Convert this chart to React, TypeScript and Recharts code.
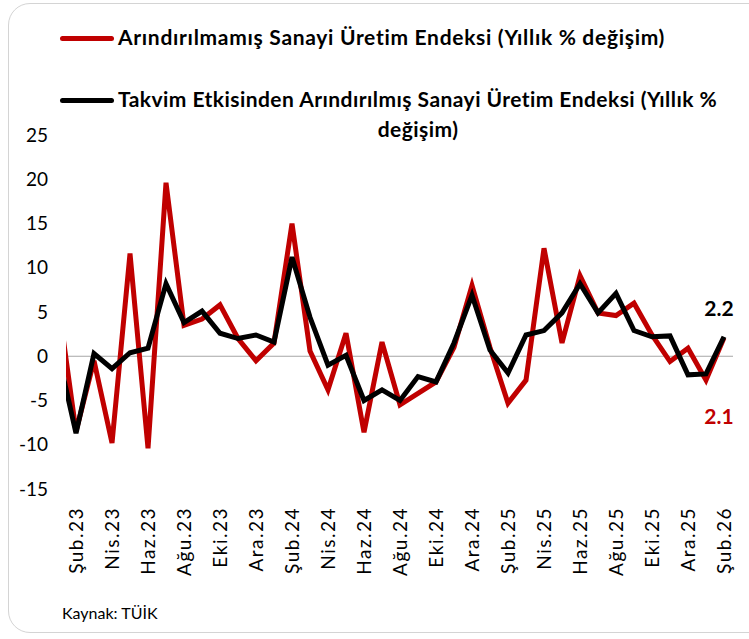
import React from "react";
import { LineChart, Line, XAxis, YAxis, ReferenceLine } from "recharts";

// Aylar (Oca.23 - Şub.26), grafik Şub.23'ten itibaren görünüyor
const months = [
  "Oca.23", "Şub.23", "Mar.23", "Nis.23", "May.23", "Haz.23", "Tem.23", "Ağu.23", "Eyl.23", "Eki.23", "Kas.23", "Ara.23",
  "Oca.24", "Şub.24", "Mar.24", "Nis.24", "May.24", "Haz.24", "Tem.24", "Ağu.24", "Eyl.24", "Eki.24", "Kas.24", "Ara.24",
  "Oca.25", "Şub.25", "Mar.25", "Nis.25", "May.25", "Haz.25", "Tem.25", "Ağu.25", "Eyl.25", "Eki.25", "Kas.25", "Ara.25",
  "Oca.26", "Şub.26",
];

// Arındırılmamış (yıllık % değişim)
const unadjusted = [
  6.3, -8.5, -0.5, -9.8, 11.6, -10.4, 19.6, 3.5, 4.2, 5.8, 2.0, -0.5,
  1.5, 15.0, 0.6, -3.8, 2.6, -8.6, 1.6, -5.5, -4.2, -2.9, 1.0, 8.0,
  1.0, -5.3, -2.7, 12.2, 1.5, 9.1, 4.9, 4.6, 6.0, 2.4, -0.6, 0.9,
  -2.7, 2.1,
];

// Takvim etkisinden arındırılmış (yıllık % değişim)
const calendarAdj = [
  0.3, -8.7, 0.3, -1.4, 0.4, 0.9, 8.2, 3.8, 5.1, 2.6, 2.0, 2.4,
  1.6, 11.2, 4.4, -1.0, 0.1, -5.0, -3.8, -5.0, -2.3, -2.9, 1.5, 6.9,
  0.7, -1.9, 2.4, 2.9, 4.9, 8.2, 4.9, 7.1, 2.9, 2.2, 2.3, -2.1,
  -2.0, 2.2,
];

const yTicks = [-15, -10, -5, 0, 5, 10, 15, 20, 25];
const xTicks = months.map((_, i) => i).filter((i) => i % 2 === 1);

const data = months.map((m, i) => ({ i, month: m, raw: unadjusted[i], adj: calendarAdj[i] }));

const FONT = "Lato, 'Noto Sans', sans-serif";
const RED = "#C00000";

const XTick = (props: any) => {
  const { x, y, payload } = props;
  return (
    <text
      x={x - 10}
      y={y}
      transform={`rotate(-90 ${x} ${y})`}
      textAnchor="end"
      dy="0.35em"
      fontSize={19}
      letterSpacing={1.5}
      fontFamily={FONT}
      fill="#000"
    >
      {months[payload.value]}
    </text>
  );
};

const endLabel = (color: string, dy: number) => (props: any) => {
  const { x, y, index, value } = props;
  if (index !== months.length - 1) return null;
  return (
    <text
      x={x - 5}
      y={y + dy}
      textAnchor="middle"
      dominantBaseline="central"
      fontSize={21}
      fontWeight={700}
      fontFamily={FONT}
      fill={color}
    >
      {Number(value).toFixed(1)}
    </text>
  );
};

const legendText: React.CSSProperties = {
  position: "absolute", fontSize: 21, fontWeight: 700, letterSpacing: 0.45, whiteSpace: "nowrap",
};

export default function App() {
  return (
    <div style={{ position: "absolute", left: 0, top: 0, width: 749, height: 639, background: "#fff", overflow: "hidden", fontFamily: FONT }}>
      {/* kart çerçevesi */}
      <div
        style={{
          position: "absolute", left: 8, top: 3, width: 780, height: 630,
          border: "1.5px solid #d4d4d4", borderRadius: 22, boxSizing: "border-box",
        }}
      />

      {/* lejant */}
      <div style={{ position: "absolute", left: 60, top: 36, width: 54, height: 5, borderRadius: 3, background: RED }} />
      <div style={{ ...legendText, left: 118, top: 24, letterSpacing: 0.7 }}>
        Arındırılmamış Sanayi Üretim Endeksi (Yıllık % değişim)
      </div>
      <div style={{ position: "absolute", left: 60, top: 98, width: 54, height: 5, borderRadius: 3, background: "#000" }} />
      <div style={{ ...legendText, left: 118, top: 86 }}>
        Takvim Etkisinden Arındırılmış Sanayi Üretim Endeksi (Yıllık %
      </div>
      <div style={{ ...legendText, left: 118, width: 600, top: 116, textAlign: "center" }}>
        değişim)
      </div>

      <div style={{ position: "absolute", left: 0, top: 0 }}>
        <LineChart width={749} height={639} data={data} margin={{ top: 135, right: 16, bottom: 50, left: 16 }}>
          <XAxis
            dataKey="i"
            type="number"
            domain={[0.444, 37.5]}
            allowDataOverflow
            ticks={xTicks}
            interval={0}
            tick={<XTick />}
            tickLine={false}
            axisLine={false}
            height={100}
          />
          <YAxis
            domain={[-15, 25]}
            ticks={yTicks}
            interval={0}
            tickLine={false}
            axisLine={false}
            width={50}
            tick={{ fontSize: 19, fill: "#000", fontFamily: FONT, dx: -10 }}
          />
          <ReferenceLine y={0} stroke="#a6a6a6" strokeWidth={1.2} />
          <Line
            type="linear"
            dataKey="raw"
            stroke={RED}
            strokeWidth={5}
            dot={false}
            isAnimationActive={false}
            label={endLabel(RED, 78)}
          />
          <Line
            type="linear"
            dataKey="adj"
            stroke="#000"
            strokeWidth={5}
            dot={false}
            isAnimationActive={false}
            label={endLabel("#000", -29)}
          />
        </LineChart>
      </div>

      <div style={{ position: "absolute", left: 62, top: 603, fontSize: 16 }}>Kaynak: TÜİK</div>
    </div>
  );
}
